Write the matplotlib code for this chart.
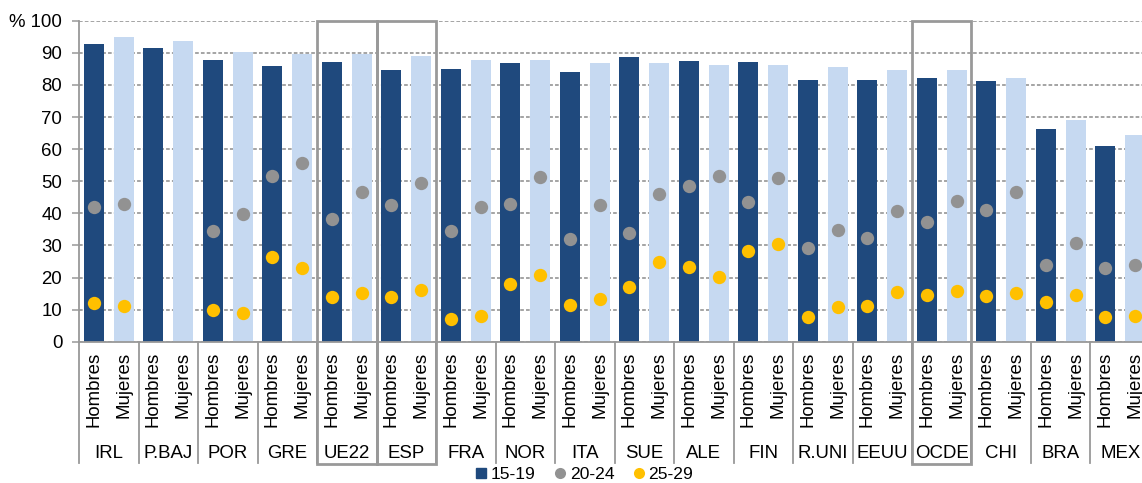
import numpy as np
import matplotlib
matplotlib.use("Agg")
import matplotlib.pyplot as plt
from matplotlib.patches import Rectangle
from matplotlib.lines import Line2D
import matplotlib.transforms as mtransforms

plt.rcParams['font.family'] = ['Liberation Sans', 'DejaVu Sans']
plt.rcParams['font.size'] = 13.4

nan = np.nan
countries = ['IRL', 'P.BAJ', 'POR', 'GRE', 'UE22', 'ESP', 'FRA', 'NOR', 'ITA',
             'SUE', 'ALE', 'FIN', 'R.UNI', 'EEUU', 'OCDE', 'CHI', 'BRA', 'MEX']
sexes = ['Hombres', 'Mujeres']
highlighted = ['UE22', 'ESP', 'OCDE']

# 15-19 (bars)
hombres_15_19 = [92.6, 91.6, 87.9, 85.8, 87.0, 84.7, 85.0, 86.8, 84.0,
                 88.7, 87.3, 87.0, 81.5, 81.5, 82.1, 81.1, 66.3, 61.0]
mujeres_15_19 = [94.9, 93.7, 90.3, 89.7, 89.7, 89.0, 87.8, 87.8, 86.8,
                 86.8, 86.2, 86.2, 85.6, 84.6, 84.6, 82.1, 69.1, 64.4]
# 20-24 (grey dots)
hombres_20_24 = [42.1, nan, 34.6, 51.7, 38.1, 42.5, 34.6, 42.9, 32.0,
                 33.8, 48.5, 43.4, 29.1, 32.2, 37.2, 41.0, 24.0, 23.0]
mujeres_20_24 = [42.8, nan, 39.9, 55.8, 46.6, 49.5, 42.1, 51.2, 42.7,
                 45.9, 51.5, 51.0, 34.7, 40.8, 43.8, 46.6, 30.8, 23.8]
# 25-29 (yellow dots)
hombres_25_29 = [12.0, nan, 9.9, 26.5, 13.8, 14.0, 7.1, 18.1, 11.4,
                 17.1, 23.2, 28.3, 7.8, 11.1, 14.5, 14.3, 12.4, 7.6]
mujeres_25_29 = [11.2, nan, 8.9, 23.1, 15.3, 16.1, 8.0, 20.7, 13.3,
                 24.7, 20.1, 30.3, 10.7, 15.6, 15.7, 15.3, 14.5, 7.9]

c_dark = '#1F497D'
c_light = '#C6D9F1'
c_grey = '#929292'
c_yellow = '#FFC000'
c_axis = '#999999'

n = len(countries)
xh = np.arange(n) * 2
xm = xh + 1

fig = plt.figure(figsize=(11.42, 4.83), dpi=100)
ax = fig.add_axes([0.0692, 0.2925, 0.9378, 0.6646])

ax.bar(xh, hombres_15_19, width=0.67, color=c_dark, zorder=2)
ax.bar(xm, mujeres_15_19, width=0.67, color=c_light, zorder=2)
ax.plot(xh, hombres_20_24, 'o', ms=9.6, color=c_grey, mec='none', zorder=3)
ax.plot(xm, mujeres_20_24, 'o', ms=9.6, color=c_grey, mec='none', zorder=3)
ax.plot(xh, hombres_25_29, 'o', ms=9.6, color=c_yellow, mec='none', zorder=3)
ax.plot(xm, mujeres_25_29, 'o', ms=9.6, color=c_yellow, mec='none', zorder=3)

ax.set_xlim(-0.5, 2 * n - 0.5)
ax.set_ylim(0, 100)
ax.set_yticks(range(0, 101, 10))
ax.set_yticklabels([str(v) for v in range(0, 100, 10)] + ['% 100'])
ax.yaxis.grid(True, color='#8C8C8C', lw=1.1, linestyle=(0, (2.4, 1.4)))
ax.set_axisbelow(True)

ax.set_xticks(np.arange(2 * n))
ax.set_xticklabels(sexes * n, rotation=90, va='top')
ax.tick_params(axis='x', length=0, pad=7)
ax.tick_params(axis='y', length=5, width=1.1, color=c_axis, pad=7, direction='out')

for side in ['top', 'right']:
    ax.spines[side].set_visible(False)
for side in ['left', 'bottom']:
    ax.spines[side].set_color(c_axis)
    ax.spines[side].set_linewidth(1.3)

trans = mtransforms.blended_transform_factory(ax.transData, ax.transAxes)

# group separators under the axis
for k in range(n):
    ax.plot([2 * k - 0.5, 2 * k - 0.5], [0, -0.378], transform=trans,
            color=c_axis, lw=1.3, clip_on=False, zorder=1)

# country labels
for k, c in enumerate(countries):
    ax.text(2 * k + 0.5, -0.347, c, transform=trans, ha='center', va='center')

# frames around the reference groups
for c in highlighted:
    k = countries.index(c)
    ax.add_patch(Rectangle((2 * k - 0.5, -0.381), 2, 1.381, transform=trans,
                           fill=False, ec=c_axis, lw=2.0, clip_on=False, zorder=5))

handles = [
    Line2D([], [], marker='s', ls='none', color=c_dark, ms=7),
    Line2D([], [], marker='o', ls='none', color=c_grey, mec='none', ms=8),
    Line2D([], [], marker='o', ls='none', color=c_yellow, mec='none', ms=8),
]
fig.legend(handles, ['15-19', '20-24', '25-29'], loc='center',
           bbox_to_anchor=(0.512, 0.017), ncol=3, frameon=False, fontsize=12.6,
           handlelength=0.6, handletextpad=0.25, columnspacing=1.1,
           borderpad=0.0)

fig.savefig('out.png', dpi=100)
